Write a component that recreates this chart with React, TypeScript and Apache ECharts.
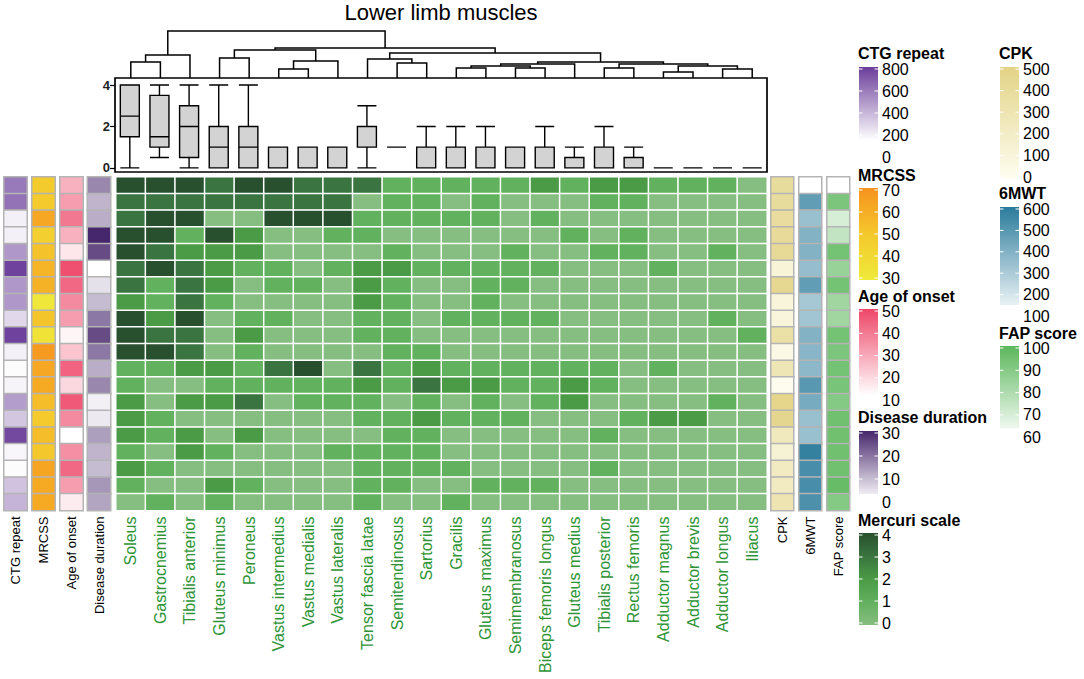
import React, { useEffect, useRef } from "react";
import * as echarts from "echarts";

const FONT = "'Liberation Sans', Arial, Helvetica, sans-serif";

const muscles = [
  "Soleus", "Gastrocnemius", "Tibialis anterior", "Gluteus minimus", "Peroneus",
  "Vastus intermedius", "Vastus medialis", "Vastus lateralis", "Tensor fascia latae",
  "Semitendinosus", "Sartorius", "Gracilis", "Gluteus maximus", "Semimembranosus",
  "Biceps femoris longus", "Gluteus medius", "Tibialis posterior", "Rectus femoris",
  "Adductor magnus", "Adductor brevis", "Adductor longus", "Iliacus",
];

const patients = Array.from({ length: 20 }, (_, i) => "P" + (i + 1));

// Mercuri scale, rows = patients (top to bottom), columns = muscles
const mercuri: number[][] = [
  [4, 4, 4, 3, 4, 4, 3, 3, 3, 1, 1, 1, 1, 1, 2, 1, 2, 2, 1, 1, 1, 0],
  [3, 3, 3, 3, 3, 3, 3, 3, 0, 1, 1, 0, 1, 0, 0, 0, 1, 1, 0, 0, 0, 0],
  [3, 4, 4, 0, 0, 4, 4, 4, 1, 1, 1, 1, 1, 0, 1, 0, 0, 0, 0, 0, 0, 0],
  [4, 4, 1, 4, 2, 0, 0, 1, 1, 0, 0, 0, 0, 0, 0, 1, 0, 1, 0, 0, 0, 0],
  [4, 3, 2, 2, 2, 0, 0, 0, 0, 1, 0, 0, 0, 1, 0, 0, 1, 1, 0, 0, 1, 0],
  [3, 4, 3, 2, 1, 1, 0, 1, 2, 2, 1, 1, 1, 1, 1, 0, 0, 0, 1, 0, 0, 0],
  [3, 1, 3, 2, 0, 1, 1, 0, 2, 1, 0, 0, 1, 1, 0, 0, 0, 0, 0, 0, 0, 0],
  [2, 1, 3, 1, 0, 0, 0, 0, 2, 1, 0, 0, 1, 0, 0, 0, 0, 0, 0, 0, 0, 0],
  [4, 2, 4, 0, 1, 1, 0, 0, 1, 1, 0, 1, 1, 1, 1, 0, 0, 0, 0, 0, 1, 0],
  [4, 3, 3, 0, 2, 0, 0, 0, 1, 1, 0, 0, 0, 0, 0, 0, 0, 0, 0, 0, 0, 1],
  [4, 4, 3, 0, 1, 0, 0, 0, 0, 1, 1, 0, 0, 0, 0, 0, 0, 0, 0, 0, 0, 0],
  [1, 1, 2, 2, 1, 3, 4, 0, 3, 1, 2, 1, 1, 1, 1, 1, 1, 0, 1, 0, 0, 0],
  [1, 0, 0, 1, 1, 1, 1, 1, 2, 1, 3, 2, 2, 1, 1, 2, 1, 0, 0, 0, 0, 0],
  [2, 0, 2, 2, 3, 0, 1, 1, 1, 0, 1, 0, 1, 0, 1, 2, 0, 0, 0, 0, 1, 0],
  [2, 1, 0, 0, 0, 0, 0, 0, 1, 1, 2, 1, 1, 1, 0, 0, 0, 1, 2, 2, 0, 0],
  [2, 1, 2, 0, 2, 0, 0, 0, 0, 1, 1, 0, 0, 0, 0, 0, 1, 0, 0, 0, 0, 0],
  [1, 0, 2, 1, 0, 0, 0, 1, 1, 1, 1, 0, 0, 0, 0, 0, 0, 0, 0, 0, 0, 0],
  [2, 1, 0, 0, 0, 0, 0, 0, 1, 1, 1, 1, 0, 0, 0, 0, 1, 0, 0, 0, 0, 0],
  [1, 0, 0, 2, 1, 0, 0, 0, 1, 1, 0, 0, 1, 1, 1, 0, 0, 0, 0, 0, 0, 0],
  [0, 1, 0, 1, 0, 0, 0, 0, 1, 0, 0, 1, 0, 0, 0, 0, 0, 0, 0, 0, 0, 0],
];

// Clinical annotations per patient (top to bottom)
const ctgRepeat = [600, 620, 200, 200, 500, 780, 500, 500, 280, 780, 200, 160, 190, 480, 340, 760, 180, 160, 350, 400];
const mrcss = [48, 49, 62, 46, 52, 57, 58, 32, 51, 35, 67, 62, 61, 54, 49, 54, 50, 63, 61, 61];
const ageOnset = [28, 32, 40, 28, 17, 48, 43, 36, 32, 14, 24, 44, 20, 46, 36, 12, 35, 43, 32, 16];
const diseaseDuration = [17, 11, 12, 30, 25, 1, 5, 10, 19, 25, 19, 12, 17, 3, 4, 14, 11, 10, 15, 13];
const cpk = [400, 400, 390, 410, 420, 120, 450, 110, 100, 350, 60, 280, 20, 470, 460, 240, 140, 220, 220, 300];
const sixMWT = [100, 470, 340, 390, 390, 350, 470, 310, 320, 390, 380, 370, 490, 420, 340, 340, 580, 530, 530, 520];
const fapScore = [60, 92, 70, 75, 94, 85, 94, 83, 83, 94, 92, 94, 93, 90, 95, 95, 95, 95, 97, 90];

// Boxplot statistics per muscle: [min, Q1, median, Q3, max]
const boxStats: number[][] = [
  [0, 1.5, 2.5, 4, 4], [0.5, 1, 1.5, 3.5, 4], [0, 0.5, 2, 3, 4], [0, 0, 1, 2, 4], [0, 0, 1, 2, 4],
  [0, 0, 0, 1, 1], [0, 0, 0, 1, 1], [0, 0, 0, 1, 1], [0, 1, 1, 2, 3], [1, 1, 1, 1, 1],
  [0, 0, 0, 1, 2], [0, 0, 0, 1, 2], [0, 0, 0, 1, 2], [0, 0, 0, 1, 1], [0, 0, 0, 1, 2],
  [0, 0, 0, 0.5, 1], [0, 0, 0, 1, 2], [0, 0, 0, 0.5, 1], [0, 0, 0, 0, 0], [0, 0, 0, 0, 0],
  [0, 0, 0, 0, 0], [0, 0, 0, 0, 0],
];
const boxTicks = [0, 2, 4];

// Column dendrogram merges: negative = leaf (1-based), positive = earlier merge; third = height
const dendroMerges: [number, number, number][] = [
  [-1, -2, 16], [1, -3, 23], [-4, -5, 20], [-6, -7, 9], [4, -8, 17], [3, 5, 28],
  [-10, -11, 15], [-9, 7, 19], [-12, -13, 10], [-14, -15, 10], [9, 10, 12], [11, -16, 14],
  [-17, -18, 10], [-19, -20, 6], [-21, -22, 9], [14, 15, 12], [13, 16, 14], [12, 17, 16],
  [8, 18, 25], [6, 19, 30], [2, 20, 47],
];

// Legend tick labels
const ctgTicks = [800, 600, 400, 200, 0];
const mrcssTicks = [70, 60, 50, 40, 30];
const ageTicks = [50, 40, 30, 20, 10];
const ddTicks = [30, 20, 10, 0];
const mercuriTicks = [4, 3, 2, 1, 0];
const cpkTicks = [500, 400, 300, 200, 100, 0];
const mwtTicks = [600, 500, 400, 300, 200, 100];
const fapTicks = [100, 90, 80, 70, 60];

type Stops = [number, string][];
const cmCTG: Stops = [[150, "#ffffff"], [800, "#6a3d9a"]];
const cmMRCSS: Stops = [[30, "#eeea3a"], [50, "#f4c82c"], [70, "#f7921e"]];
const cmAge: Stops = [[12, "#ffffff"], [50, "#ee4668"]];
const cmDD: Stops = [[1, "#ffffff"], [30, "#46266c"]];
const cmMercuri: Stops = [[0, "#86bd80"], [1, "#62b15e"], [2, "#4b9a46"], [3, "#3a7440"], [4, "#28502e"]];
const cmCPK: Stops = [[0, "#fefef2"], [500, "#e3d386"]];
const cmMWT: Stops = [[100, "#ffffff"], [600, "#2a7b9b"]];
const cmFAP: Stops = [[60, "#ffffff"], [100, "#5bb75b"]];

function hexToRgb(h: string) {
  const n = parseInt(h.slice(1), 16);
  return [(n >> 16) & 255, (n >> 8) & 255, n & 255];
}
function interp(stops: Stops, v: number) {
  if (v <= stops[0][0]) return stops[0][1];
  for (let i = 1; i < stops.length; i++) {
    if (v <= stops[i][0]) {
      const t = (v - stops[i - 1][0]) / (stops[i][0] - stops[i - 1][0]);
      const a = hexToRgb(stops[i - 1][1]);
      const b = hexToRgb(stops[i][1]);
      const c = a.map((x, k) => Math.round(x + (b[k] - x) * t));
      return `rgb(${c[0]},${c[1]},${c[2]})`;
    }
  }
  return stops[stops.length - 1][1];
}

const legends = [
  { title: "CTG repeat", ticks: ctgTicks, cm: cmCTG, lo: 155, hi: 800, x: 859, titleY: 53, y0: 69, step: 22 },
  { title: "MRCSS", ticks: mrcssTicks, cm: cmMRCSS, lo: 30, hi: 70, x: 859, titleY: 175, y0: 190, step: 22 },
  { title: "Age of onset", ticks: ageTicks, cm: cmAge, lo: 12, hi: 50, x: 859, titleY: 296, y0: 311, step: 22.3 },
  { title: "Disease duration", ticks: ddTicks, cm: cmDD, lo: 3.5, hi: 30, x: 859, titleY: 417, y0: 433, step: 23 },
  { title: "Mercuri scale", ticks: mercuriTicks, cm: cmMercuri, lo: 0, hi: 4, x: 859, titleY: 520, y0: 535, step: 22 },
  { title: "CPK", ticks: cpkTicks, cm: cmCPK, lo: 0, hi: 500, x: 1000, titleY: 53, y0: 69, step: 21.6 },
  { title: "6MWT", ticks: mwtTicks, cm: cmMWT, lo: 151, hi: 600, x: 1000, titleY: 193, y0: 209, step: 21.4 },
  { title: "FAP score", ticks: fapTicks, cm: cmFAP, lo: 64, hi: 100, x: 1000, titleY: 333, y0: 348, step: 22.3 },
];

function legendElements() {
  const els: any[] = [];
  legends.forEach((L) => {
    const dv = L.ticks[0] - L.ticks[1];
    const yOf = (v: number) => L.y0 + ((L.ticks[0] - v) / dv) * L.step;
    const top = yOf(L.hi) - 2;
    const bottom = yOf(L.lo) + (L.lo === L.ticks[L.ticks.length - 1] ? 2 : 0);
    const stops: any[] = [];
    for (let i = 0; i <= 10; i++) {
      const v = L.hi - ((L.hi - L.lo) * i) / 10;
      stops.push({ offset: i / 10, color: interp(L.cm, v) });
    }
    els.push({
      type: "text",
      x: L.x - 1,
      y: L.titleY,
      style: { text: L.title, font: `bold 16px ${FONT}`, fill: "#000", align: "left", verticalAlign: "middle", textAlign: "left", textVerticalAlign: "middle" },
    });
    els.push({
      type: "rect",
      shape: { x: L.x, y: top, width: 19, height: bottom - top },
      style: { fill: new echarts.graphic.LinearGradient(0, 0, 0, 1, stops) },
    });
    L.ticks.forEach((t) => {
      const y = yOf(t);
      if (t >= L.lo && t <= L.hi) {
        els.push({ type: "line", shape: { x1: L.x, y1: y, x2: L.x + 3.5, y2: y }, style: { stroke: "#fff", lineWidth: 1 } });
        els.push({ type: "line", shape: { x1: L.x + 15.5, y1: y, x2: L.x + 19, y2: y }, style: { stroke: "#fff", lineWidth: 1 } });
      }
      els.push({
        type: "text",
        x: L.x + 23,
        y: y,
        style: { text: String(t), font: `16px ${FONT}`, fill: "#000", align: "left", verticalAlign: "middle", textAlign: "left", textVerticalAlign: "middle" },
      });
    });
  });
  return els;
}

function dendroLines() {
  const pos: { x: number; h: number }[] = [];
  const get = (id: number) => (id < 0 ? { x: -id - 1, h: 0 } : pos[id - 1]);
  const lines: any[] = [];
  dendroMerges.forEach(([a, b, h]) => {
    const A = get(a);
    const B = get(b);
    lines.push({ coords: [[A.x, A.h], [A.x, h], [B.x, h], [B.x, B.h]] });
    pos.push({ x: (A.x + B.x) / 2, h });
  });
  return lines;
}

const annotations = [
  { name: "CTG repeat", data: ctgRepeat, cm: cmCTG, left: 4, width: 23 },
  { name: "MRCSS", data: mrcss, cm: cmMRCSS, left: 32, width: 23 },
  { name: "Age of onset", data: ageOnset, cm: cmAge, left: 60, width: 23 },
  { name: "Disease duration", data: diseaseDuration, cm: cmDD, left: 87.5, width: 23 },
  { name: "CPK", data: cpk, cm: cmCPK, left: 771, width: 22.5 },
  { name: "6MWT", data: sixMWT, cm: cmMWT, left: 799, width: 22.5 },
  { name: "FAP score", data: fapScore, cm: cmFAP, left: 827, width: 22.5 },
];

const HM_TOP = 177;
const HM_H = 333.5;

export default function App() {
  const ref = useRef<HTMLDivElement>(null);
  useEffect(() => {
    if (!ref.current) return;
    const chart = echarts.init(ref.current, undefined, { renderer: "svg" });

    const grids: any[] = [];
    const xAxes: any[] = [];
    const yAxes: any[] = [];
    const series: any[] = [];
    const visualMaps: any[] = [];

    const rowAxis = (gi: number) => ({
      type: "category", gridIndex: gi, data: patients, inverse: true, show: false,
    });

    // main heatmap
    grids.push({ left: 116, top: HM_TOP, width: 651, height: HM_H });
    xAxes.push({
      type: "category", gridIndex: 0, data: muscles,
      axisLine: { show: false }, axisTick: { show: false },
      axisLabel: { rotate: 90, interval: 0, fontSize: 16, color: "#2f9337", fontFamily: FONT, margin: 6 },
    });
    yAxes.push(rowAxis(0));
    const hmData: any[] = [];
    mercuri.forEach((row, r) => row.forEach((v, c) => hmData.push([c, r, v])));
    series.push({
      type: "heatmap", xAxisIndex: 0, yAxisIndex: 0, data: hmData,
      itemStyle: { borderColor: "#ffffff", borderWidth: 1.5 },
      emphasis: { disabled: true },
    });
    visualMaps.push({
      type: "continuous", show: false, seriesIndex: 0, dimension: 2,
      min: cmMercuri[0][0], max: cmMercuri[cmMercuri.length - 1][0],
      inRange: { color: cmMercuri.map((s) => s[1]) },
    });

    annotations.forEach((a, k) => {
      const gi = k + 1;
      grids.push({ left: a.left, top: HM_TOP, width: a.width, height: HM_H });
      xAxes.push({
        type: "category", gridIndex: gi, data: [a.name],
        axisLine: { show: false }, axisTick: { show: false },
        axisLabel: { rotate: 90, interval: 0, fontSize: 13, color: "#000", fontFamily: FONT, margin: 6 },
      });
      yAxes.push(rowAxis(gi));
      series.push({
        type: "heatmap", xAxisIndex: gi, yAxisIndex: gi,
        data: a.data.map((v, r) => [0, r, v]),
        itemStyle: { borderColor: "#b4b4b4", borderWidth: 1.5 },
        emphasis: { disabled: true },
      });
      visualMaps.push({
        type: "continuous", show: false, seriesIndex: gi, dimension: 2,
        min: a.cm[0][0], max: a.cm[a.cm.length - 1][0],
        inRange: { color: a.cm.map((s) => s[1]) },
      });
    });

    // boxplot panel
    const bgi = grids.length;
    grids.push({ left: 115, top: 78, width: 652, height: 94, show: true, borderColor: "#000", borderWidth: 1.7, backgroundColor: "transparent" });
    xAxes.push({ type: "category", gridIndex: bgi, data: muscles, show: false });
    yAxes.push({
      type: "value", gridIndex: bgi, min: -0.2, max: 4.34,
      axisLine: { show: false },
      splitLine: { show: false },
      axisTick: { show: true, length: 5, customValues: boxTicks, lineStyle: { color: "#000", width: 1.2 } },
      axisLabel: { customValues: boxTicks, fontSize: 13, fontWeight: "bold", color: "#222", fontFamily: FONT, margin: 5 },
    });
    series.push({
      type: "boxplot", xAxisIndex: bgi, yAxisIndex: bgi, data: boxStats,
      boxWidth: [19, 19],
      itemStyle: { color: "#d3d3d3", borderColor: "#000", borderWidth: 1.4 },
      emphasis: { disabled: true },
    });

    // dendrogram
    const dgi = grids.length;
    grids.push({ left: 116, top: 28, width: 651, height: 50 });
    xAxes.push({ type: "value", gridIndex: dgi, min: -0.5, max: muscles.length - 0.5, show: false });
    yAxes.push({ type: "value", gridIndex: dgi, min: 0, max: 50, show: false });
    series.push({
      type: "lines", coordinateSystem: "cartesian2d", xAxisIndex: dgi, yAxisIndex: dgi,
      polyline: true, data: dendroLines(),
      lineStyle: { color: "#000", width: 1.5, opacity: 1 },
      silent: true,
    });

    chart.setOption({
      animation: false,
      textStyle: { fontFamily: FONT },
      title: {
        text: "Lower limb muscles", left: 441, top: 1, textAlign: "center", padding: 0,
        textStyle: { fontSize: 22, fontWeight: "normal", color: "#000", fontFamily: FONT },
      },
      grid: grids,
      xAxis: xAxes,
      yAxis: yAxes,
      visualMap: visualMaps,
      series,
      graphic: legendElements(),
    });
    return () => chart.dispose();
  }, []);
  return (
    <div
      ref={ref}
      style={{ position: "fixed", left: 0, top: 0, width: "1084px", height: "679px", background: "#fff" }}
    />
  );
}
